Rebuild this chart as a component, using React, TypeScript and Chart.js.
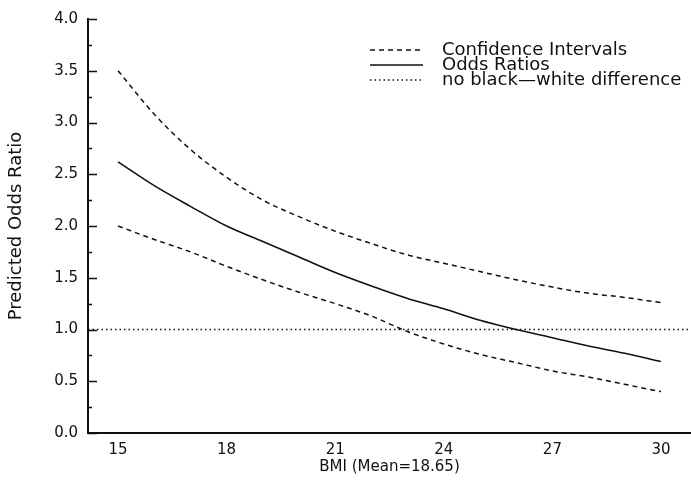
import React, { useEffect, useRef } from "react";
import { Chart, registerables } from "chart.js";

Chart.register(...registerables);

// ---- data ----
const BMI = [15, 16, 17, 18, 19, 20, 21, 22, 23, 24, 25, 26, 27, 28, 29, 30];
const CI_UPPER = [3.5, 3.08, 2.74, 2.47, 2.25, 2.09, 1.95, 1.83, 1.72, 1.64, 1.56, 1.48, 1.41, 1.35, 1.31, 1.26];
const ODDS_RATIO = [2.62, 2.39, 2.19, 2.0, 1.85, 1.7, 1.55, 1.42, 1.3, 1.2, 1.09, 1.0, 0.92, 0.84, 0.77, 0.69];
const CI_LOWER = [2.0, 1.87, 1.75, 1.61, 1.48, 1.36, 1.25, 1.13, 0.98, 0.86, 0.76, 0.68, 0.6, 0.54, 0.47, 0.4];
const NO_DIFFERENCE = 1.0;

const X_MIN = 14.17;
const X_MAX = 30.83;
const X_TICKS = [15, 18, 21, 24, 27, 30];
const Y_MIN = 0;
const Y_MAX = 4;
const Y_STEP = 0.5;
const Y_MINOR_STEP = 0.25;

const X_TITLE = "BMI (Mean=18.65)";
const Y_TITLE = "Predicted Odds Ratio";
const LEGEND_CI = "Confidence Intervals";
const LEGEND_OR = "Odds Ratios";
const LEGEND_ND = "no black\u2014white difference";

const FONT = "'DejaVu Sans', 'Open Sans', sans-serif";
const INK = "#111111";

const DASHED = [5, 4];
const DOTTED = [1.5, 3];

const toPoints = (ys: number[]) => BMI.map((x, i) => ({ x, y: ys[i] }));

const yTicksPlugin = {
  id: "inwardYTicks",
  afterDraw(chart: any) {
    const y = chart.scales.y;
    const left = chart.chartArea.left;
    const ctx = chart.ctx;
    ctx.save();
    ctx.strokeStyle = INK;
    ctx.lineWidth = 1.5;
    for (let v = Y_MIN; v <= Y_MAX + 1e-9; v += Y_MINOR_STEP) {
      const major = Math.abs(v / Y_STEP - Math.round(v / Y_STEP)) < 1e-6;
      const py = Math.round(y.getPixelForValue(v)) + 0.5;
      ctx.beginPath();
      ctx.moveTo(left, py);
      ctx.lineTo(left + (major ? 9 : 4), py);
      ctx.stroke();
    }
    ctx.restore();
  },
};

const legendPlugin = {
  id: "insideLegend",
  afterDraw(chart: any) {
    const ctx = chart.ctx;
    const ds = chart.data.datasets;
    const entries = [
      { text: LEGEND_CI, d: ds[0] },
      { text: LEGEND_OR, d: ds[2] },
      { text: LEGEND_ND, d: ds[3] },
    ];
    const lineX0 = chart.chartArea.left + 282;
    const lineX1 = lineX0 + 53;
    const textX = lineX0 + 72;
    const rowY0 = chart.chartArea.top + 31;
    const rowH = 15;
    ctx.save();
    ctx.font = `18px ${FONT}`;
    ctx.fillStyle = INK;
    ctx.textBaseline = "middle";
    ctx.textAlign = "left";
    entries.forEach((e, i) => {
      const yy = rowY0 + i * rowH;
      ctx.beginPath();
      ctx.strokeStyle = e.d.borderColor;
      ctx.lineWidth = e.d.borderWidth;
      ctx.setLineDash(e.d.borderDash || []);
      ctx.moveTo(lineX0, yy);
      ctx.lineTo(lineX1, yy);
      ctx.stroke();
      ctx.setLineDash([]);
      ctx.fillText(e.text, textX, yy);
    });
    ctx.restore();
  },
};

export default function App() {
  const canvasRef = useRef<HTMLCanvasElement | null>(null);

  useEffect(() => {
    const canvas = canvasRef.current;
    if (!canvas) return;
    Chart.defaults.font.family = FONT;
    Chart.defaults.color = INK;

    const chart = new Chart(canvas, {
      type: "line",
      data: {
        datasets: [
          {
            label: LEGEND_CI,
            data: toPoints(CI_UPPER),
            borderColor: INK,
            borderWidth: 1.5,
            borderDash: DASHED,
            pointRadius: 0,
            cubicInterpolationMode: "monotone",
          },
          {
            label: LEGEND_CI + " (lower)",
            data: toPoints(CI_LOWER),
            borderColor: INK,
            borderWidth: 1.5,
            borderDash: DASHED,
            pointRadius: 0,
            cubicInterpolationMode: "monotone",
          },
          {
            label: LEGEND_OR,
            data: toPoints(ODDS_RATIO),
            borderColor: INK,
            borderWidth: 1.6,
            pointRadius: 0,
            cubicInterpolationMode: "monotone",
          },
          {
            label: LEGEND_ND,
            data: [
              { x: X_MIN, y: NO_DIFFERENCE },
              { x: X_MAX, y: NO_DIFFERENCE },
            ],
            borderColor: INK,
            borderWidth: 1.3,
            borderDash: DOTTED,
            pointRadius: 0,
          },
        ],
      },
      options: {
        animation: false,
        responsive: false,
        maintainAspectRatio: false,
        layout: { padding: { top: 15, right: 0, left: 0, bottom: 0 } },
        plugins: {
          legend: { display: false },
          tooltip: { enabled: false },
        },
        scales: {
          x: {
            type: "linear",
            min: X_MIN,
            max: X_MAX,
            afterBuildTicks: (s: any) => {
              s.ticks = X_TICKS.map((v) => ({ value: v }));
            },
            afterFit: (s: any) => {
              s.height = 47;
            },
            grid: { display: false, drawTicks: false },
            border: { display: true, color: INK, width: 2 },
            ticks: {
              padding: 8,
              font: { size: 15 },
              color: INK,
              maxRotation: 0,
              autoSkip: false,
            },
            title: {
              display: true,
              text: X_TITLE,
              font: { size: 15 },
              color: INK,
              padding: { top: 0, bottom: 4 },
            },
          },
          y: {
            type: "linear",
            min: Y_MIN,
            max: Y_MAX,
            ticks: {
              stepSize: Y_STEP,
              padding: 10,
              font: { size: 15 },
              color: INK,
              callback: (v: any) => Number(v).toFixed(1),
            },
            afterFit: (s: any) => {
              s.width = 88;
            },
            grid: { display: false, drawTicks: false },
            border: { display: true, color: INK, width: 2 },
            title: {
              display: true,
              text: Y_TITLE,
              font: { size: 18 },
              color: INK,
              padding: { top: 6, bottom: 0 },
            },
          },
        },
      },
      plugins: [yTicksPlugin, legendPlugin],
    } as any);

    return () => chart.destroy();
  }, []);

  return (
    <div style={{ position: "absolute", left: 0, top: 0, width: 691, height: 480, background: "#fff" }}>
      <canvas ref={canvasRef} width={691} height={480} style={{ display: "block", width: 691, height: 480 }} />
    </div>
  );
}
